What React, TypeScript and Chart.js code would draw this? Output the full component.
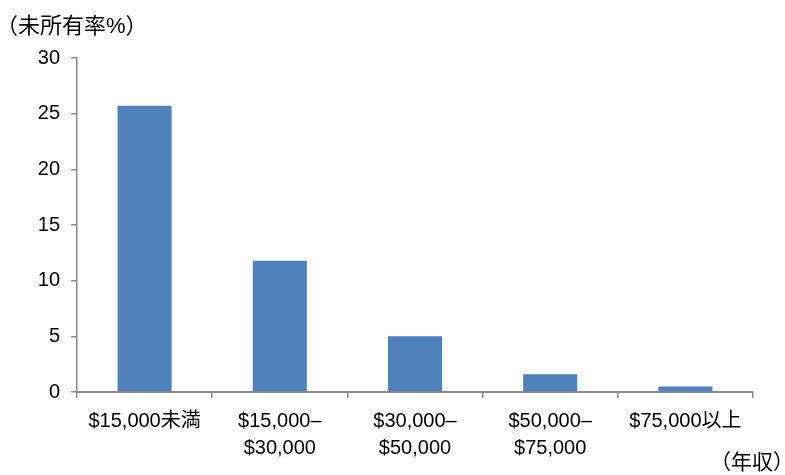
import React, { useEffect, useRef } from "react";
import { Chart, registerables } from "chart.js";

Chart.register(...registerables);

const categories: (string | string[])[] = [
  "$15,000未満",
  ["$15,000–", "$30,000"],
  ["$30,000–", "$50,000"],
  ["$50,000–", "$75,000"],
  "$75,000以上",
];
const values: number[] = [25.7, 11.8, 5.0, 1.6, 0.5];
const yTicks: number[] = [0, 5, 10, 15, 20, 25, 30];
const yTitle = "（未所有率%）";
const xTitle = "（年収）";

const FONT = "'Liberation Sans', 'Noto Sans CJK JP', sans-serif";
const AXIS = "#898989";

export default function App() {
  const ref = useRef<HTMLCanvasElement | null>(null);
  useEffect(() => {
    if (!ref.current) return;
    const textPlugin = {
      id: "texts",
      afterDraw(chart: any) {
        const ctx = chart.ctx;
        ctx.save();
        ctx.fillStyle = "#000";
        ctx.textBaseline = "middle";
        ctx.textAlign = "left";
        ctx.font = `22px ${FONT}`;
        ctx.fillText(yTitle, -4, 27);
        ctx.font = `21px ${FONT}`;
        ctx.fillText(xTitle, 710, 463);
        ctx.restore();
      },
    };
    const chart = new Chart(ref.current, {
      type: "bar",
      data: {
        labels: categories,
        datasets: [
          {
            data: values,
            backgroundColor: "#4F81BD",
            borderWidth: 0,
            barPercentage: 0.4,
            categoryPercentage: 1,
          },
        ],
      },
      options: {
        responsive: false,
        animation: false,
        layout: { padding: { top: 58, right: 32, left: 0, bottom: 0 } },
        plugins: { legend: { display: false }, tooltip: { enabled: false }, title: { display: false } },
        scales: {
          x: {
            afterFit(scale: any) {
              scale.height = 83;
            },
            grid: {
              offset: true,
              drawOnChartArea: false,
              drawTicks: true,
              tickLength: 6,
              color: AXIS,
              lineWidth: 1.5,
            },
            border: { display: true, color: AXIS, width: 2 },
            ticks: {
              color: "#000",
              font: { family: FONT, size: 20, lineHeight: 1.35 },
              padding: 10,
              maxRotation: 0,
              autoSkip: false,
            },
          },
          y: {
            min: 0,
            max: 30,
            afterFit(scale: any) {
              scale.width = 77;
            },
            afterBuildTicks(scale: any) {
              scale.ticks = yTicks.map((v) => ({ value: v }));
            },
            grid: {
              drawOnChartArea: false,
              drawTicks: true,
              tickLength: 6,
              color: AXIS,
              lineWidth: 1.5,
            },
            border: { display: true, color: AXIS, width: 1.5 },
            ticks: {
              color: "#000",
              font: { family: FONT, size: 20 },
              padding: 11,
            },
          },
        },
      },
      plugins: [textPlugin],
    });
    return () => chart.destroy();
  }, []);
  return (
    <div style={{ position: "fixed", left: 0, top: 0, width: 785, height: 475, background: "#fff" }}>
      <canvas ref={ref} width={785} height={475} style={{ width: 785, height: 475 }} />
    </div>
  );
}
